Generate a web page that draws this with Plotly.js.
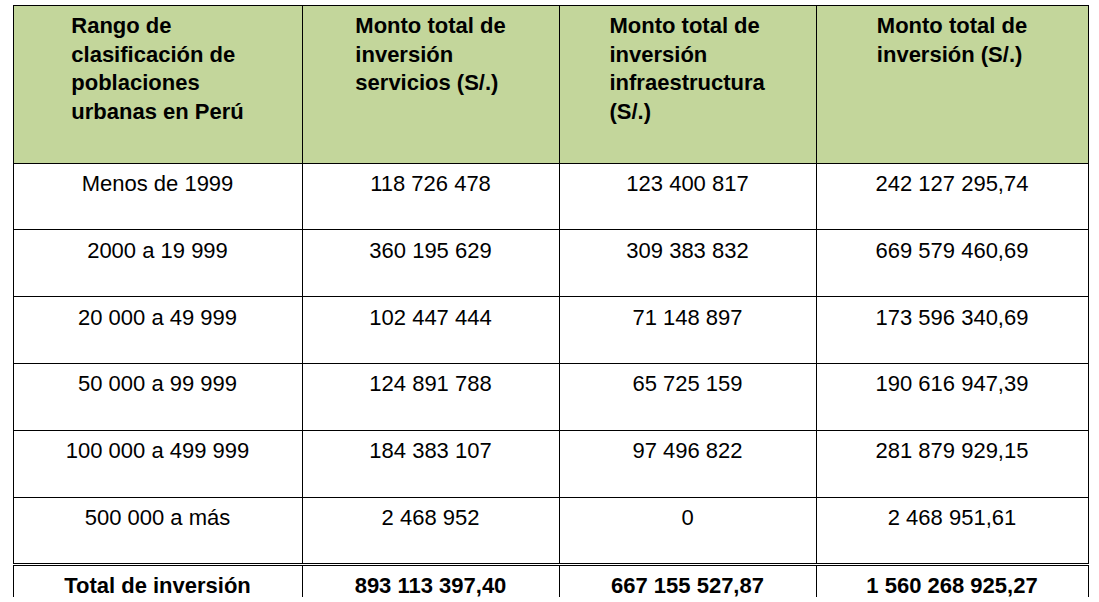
<!DOCTYPE html>
<html><head><meta charset="utf-8">
<script src="https://cdn.plot.ly/plotly-3.0.0.min.js"></script>
<style>body{margin:0}</style></head>
<body><div id="plot" style="width:1099px;height:602px"></div>
<script>
const headers = ['Rango de<br>clasificación de<br>poblaciones<br>urbanas en Perú',
  'Monto total de<br>inversión<br>servicios (S/.)',
  'Monto total de<br>inversión<br>infraestructura<br>(S/.)',
  'Monto total de<br>inversión (S/.)'];
const ranges = ['Menos de 1999', '2000 a 19 999', '20 000 a 49 999', '50 000 a 99 999', '100 000 a 499 999', '500 000 a más'];
const servicios = ['118 726 478', '360 195 629', '102 447 444', '124 891 788', '184 383 107', '2 468 952'];
const infraestructura = ['123 400 817', '309 383 832', '71 148 897', '65 725 159', '97 496 822', '0'];
const total = ['242 127 295,74', '669 579 460,69', '173 596 340,69', '190 616 947,39', '281 879 929,15', '2 468 951,61'];
const totalRow = ['Total de inversión', '893 113 397,40', '667 155 527,87', '1 560 268 925,27'];

const widths = [289, 257, 257, 272];
const fontF = 'Liberation Sans, Arial, sans-serif';
const xd = [13 / 1099, 1088 / 1099];

const main = {
  type: 'table',
  domain: {x: xd, y: [1 - 565 / 602, 1 - 5 / 602]},
  columnwidth: widths,
  header: {
    values: headers.map(h => '<b>' + h + '</b>'),
    fill: {color: '#c3d69b'},
    line: {color: '#000', width: 1},
    font: {family: fontF, size: 22, color: '#000'},
    align: 'center', height: 158
  },
  cells: {
    values: [ranges.map(r => '<br>' + r), servicios.map(r => '<br>' + r),
             infraestructura.map(r => '<br>' + r), total.map(r => '<br>' + r)],
    fill: {color: '#fff'},
    line: {color: '#000', width: 1},
    font: {family: fontF, size: 22, color: '#000'},
    align: 'center', height: 66.8
  }
};
const foot = {
  type: 'table',
  domain: {x: xd, y: [5 / 602, 1 - 565 / 602]},
  columnwidth: widths,
  header: {
    values: totalRow.map(t => '<b>' + t + '</b>'),
    fill: {color: '#fff'},
    line: {color: '#000', width: 1},
    font: {family: fontF, size: 22, color: '#000'},
    align: 'center', height: 32
  },
  cells: {values: [[], [], [], []], height: 1}
};
Plotly.newPlot('plot', [main, foot], {
  width: 1099, height: 602, margin: {l: 0, r: 0, t: 0, b: 0},
  paper_bgcolor: '#fff'
}, {displayModeBar: false});
</script></body></html>
